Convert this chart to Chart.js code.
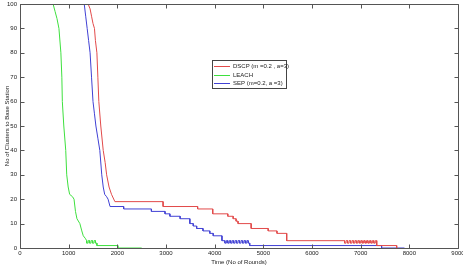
<!DOCTYPE html>
<html>
<head>
<meta charset="utf-8">
<script src="https://cdn.jsdelivr.net/npm/chart.js@4/dist/chart.umd.min.js"></script>
<style>
  html, body { margin: 0; padding: 0; background: #fff; }
  #wrap { width: 463px; height: 269px; }
</style>
</head>
<body>
<div id="wrap"><canvas id="c" width="463" height="269"></canvas></div>
<script>
// values
const seriesNames = ['DSCP (m =0.2 , a=3)', 'LEACH', 'SEP (m=0.2, a =3)'];
const seriesColors = ['#e24a4a', '#3ee03e', '#4040d4'];

const dscpX = [0, 1400, 1440, 1470, 1500, 1530, 1550, 1580, 1600, 1620,
  1660, 1710, 1750, 1780, 1830, 1880, 1950,
  2940, 2940, 3650, 3650, 3960, 3960, 4270, 4270,
  4380, 4380, 4440, 4440, 4480, 4480,
  4750, 4750, 5100, 5100, 5280, 5280, 5480, 5480,
  6670, 6670, 6700, 6700, 6730, 6730, 6760, 6760, 6790, 6790, 6820, 6820,
  6850, 6850, 6880, 6880, 6910, 6910, 6940, 6940, 6970, 6970, 7000, 7000,
  7030, 7030, 7060, 7060, 7090, 7090, 7120, 7120, 7150, 7150, 7180, 7180,
  7210, 7210, 7240, 7240, 7270, 7270, 7300, 7300, 7330, 7330,
  7740, 7740];
const dscpY = [100, 100, 98, 95, 92, 90, 85, 80, 70, 60,
  50, 40, 35, 30, 25, 22, 19,
  19, 17, 17, 16, 16, 14, 14, 13,
  13, 12, 12, 11, 11, 10,
  10, 8, 8, 7, 7, 6, 6, 3,
  3, 2, 2, 3, 3, 2, 2, 3, 3, 2, 2, 3,
  3, 2, 2, 3, 3, 2, 2, 3, 3, 2, 2, 3,
  3, 2, 2, 3, 3, 2, 2, 3, 3, 2, 2, 3,
  3, 2, 2, 3, 3, 2, 2, 3, 3, 1,
  1, 0];

const leachX = [0, 680, 720, 760, 800, 840, 860, 870, 900, 940,
  960, 990, 1020, 1080, 1110, 1140, 1170, 1230, 1270, 1300,
  1340, 1370, 1370, 1400, 1400, 1430, 1430, 1460, 1460, 1490, 1490,
  1520, 1520, 1550, 1550, 1580, 1580,
  2010, 2010, 2500];
const leachY = [100, 100, 97, 94, 90, 80, 70, 60, 50, 40,
  30, 25, 22, 21, 20, 15, 12, 10, 7, 5,
  4, 3, 2, 2, 3, 3, 2, 2, 3, 3, 2,
  2, 3, 3, 2, 2, 1,
  1, 0, 0];

const sepX = [0, 1320, 1350, 1380, 1410, 1440, 1470, 1500, 1530, 1560,
  1600, 1640, 1680, 1710, 1740, 1780, 1810, 1850,
  2130, 2130, 2700, 2700, 2980, 2980, 3080, 3080,
  3290, 3290, 3490, 3490, 3560, 3560, 3630, 3630,
  3760, 3760, 3900, 3900, 3970, 3970, 4150, 4150,
  4210, 4210, 4240, 4240, 4270, 4270, 4300, 4300, 4330, 4330, 4360, 4360,
  4390, 4390, 4420, 4420, 4450, 4450, 4480, 4480, 4510, 4510, 4540, 4540,
  4570, 4570, 4600, 4600, 4630, 4630, 4660, 4660, 4690, 4690, 4720, 4720,
  7430, 7430, 7900];
const sepY = [100, 100, 95, 90, 85, 80, 70, 60, 55, 50,
  45, 40, 30, 25, 22, 21, 20, 17,
  17, 16, 16, 15, 15, 14, 14, 13,
  13, 12, 12, 10, 10, 9, 9, 8,
  8, 7, 7, 6, 6, 5, 5, 3,
  3, 2, 2, 3, 3, 2, 2, 3, 3, 2, 2, 3,
  3, 2, 2, 3, 3, 2, 2, 3, 3, 2, 2, 3,
  3, 2, 2, 3, 3, 2, 2, 3, 3, 2, 2, 1,
  1, 0, 0];

const xTicks = [0, 1000, 2000, 3000, 4000, 5000, 6000, 7000, 8000, 9000];
const yTicks = [0, 10, 20, 30, 40, 50, 60, 70, 80, 90, 100];

const toPoints = (xs, ys) => xs.map((x, i) => ({ x: x, y: ys[i] }));

const fontFamily = '"Liberation Sans", Arial, sans-serif';

// matlab style box, inward ticks and legend
const matlabAxes = {
  id: 'matlabAxes',
  afterDraw(chart) {
    const ctx = chart.ctx;
    const a = chart.chartArea;
    const sx = chart.scales.x, sy = chart.scales.y;
    const L = Math.round(a.left) + 0.5, R = Math.round(a.right) + 0.5;
    const T = Math.round(a.top) + 0.5, B = Math.round(a.bottom) + 0.5;
    ctx.save();
    ctx.setLineDash([]);
    ctx.globalAlpha = 1;
    ctx.strokeStyle = '#555555';
    ctx.lineWidth = 1;
    ctx.beginPath();
    ctx.moveTo(L, T); ctx.lineTo(R, T); ctx.lineTo(R, B); ctx.lineTo(L, B); ctx.closePath();
    xTicks.forEach(v => {
      const px = Math.round(sx.getPixelForValue(v)) + 0.5;
      ctx.moveTo(px, B); ctx.lineTo(px, B - 4);
      ctx.moveTo(px, T); ctx.lineTo(px, T + 4);
    });
    yTicks.forEach(v => {
      const py = Math.round(sy.getPixelForValue(v)) + 0.5;
      ctx.moveTo(L, py); ctx.lineTo(L + 4, py);
      ctx.moveTo(R, py); ctx.lineTo(R - 4, py);
    });
    ctx.stroke();

    // legend box
    const lx = 212, ly = 60, lw = 74, lh = 28;
    ctx.fillStyle = '#ffffff';
    ctx.fillRect(lx, ly, lw, lh);
    ctx.strokeStyle = '#444444';
    ctx.strokeRect(lx + 0.5, ly + 0.5, lw, lh);
    ctx.font = '6px ' + fontFamily;
    ctx.textBaseline = 'middle';
    ctx.textAlign = 'left';
    seriesNames.forEach((name, i) => {
      const y = Math.round(ly + 6 + i * 8.7);
      ctx.fillStyle = seriesColors[i];
      ctx.fillRect(lx + 2, y, 16, 1);
      ctx.fillStyle = '#222222';
      ctx.fillText(name, lx + 21, y + 0.5);
    });
    ctx.restore();
  }
};

new Chart(document.getElementById('c'), {
  type: 'line',
  data: {
    datasets: [
      { label: seriesNames[0], data: toPoints(dscpX, dscpY), borderColor: seriesColors[0] },
      { label: seriesNames[1], data: toPoints(leachX, leachY), borderColor: seriesColors[1] },
      { label: seriesNames[2], data: toPoints(sepX, sepY), borderColor: seriesColors[2] }
    ]
  },
  options: {
    responsive: false,
    animation: false,
    parsing: false,
    elements: {
      line: { borderWidth: 1, tension: 0 },
      point: { radius: 0 }
    },
    layout: { padding: { top: 4, right: 5, left: 0, bottom: 0 } },
    plugins: {
      legend: { display: false },
      tooltip: { enabled: false }
    },
    scales: {
      x: {
        type: 'linear',
        min: 0,
        max: 9000,
        afterBuildTicks: s => { s.ticks = xTicks.map(v => ({ value: v })); },
        afterFit: s => { s.height = 21; s.paddingLeft = 0; s.paddingRight = 0; },
        grid: { display: false, drawTicks: false },
        border: { display: false },
        ticks: {
          padding: 2,
          maxRotation: 0,
          autoSkip: false,
          color: '#222',
          font: { size: 6, family: fontFamily },
          callback: v => String(v)
        },
        title: {
          display: true,
          text: 'Time (No of Rounds)',
          color: '#222',
          font: { size: 6, family: fontFamily },
          padding: { top: 0, bottom: 3 }
        }
      },
      y: {
        min: 0,
        max: 100,
        afterBuildTicks: s => { s.ticks = yTicks.map(v => ({ value: v })); },
        afterFit: s => { s.width = 20; s.paddingTop = 0; s.paddingBottom = 0; },
        grid: { display: false, drawTicks: false },
        border: { display: false },
        ticks: {
          padding: 3,
          autoSkip: false,
          color: '#222',
          font: { size: 6, family: fontFamily },
          callback: v => String(v)
        },
        title: {
          display: true,
          text: 'No of Clusters to Base Station',
          color: '#222',
          font: { size: 6, family: fontFamily },
          padding: { top: 4, bottom: 0 }
        }
      }
    }
  },
  plugins: [matlabAxes]
});
</script>
</body>
</html>
